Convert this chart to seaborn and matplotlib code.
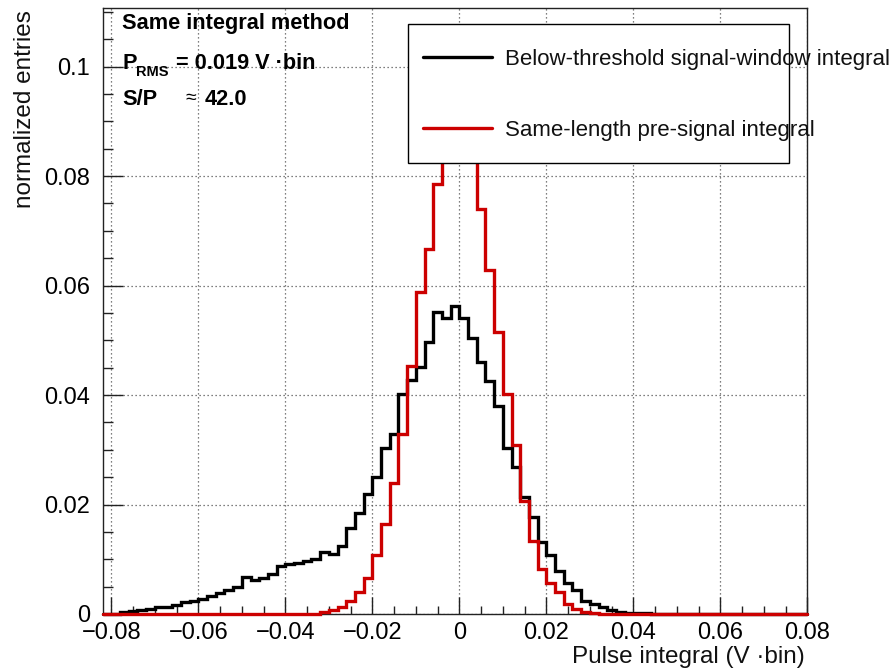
import matplotlib
matplotlib.use("Agg")
import matplotlib.pyplot as plt
import matplotlib.ticker as mticker
from matplotlib.patches import Rectangle
from matplotlib.lines import Line2D
import numpy as np
import pandas as pd
import seaborn as sns

# ---------------- data ----------------
x_min, x_max, bin_width = -0.082, 0.080, 0.002
bin_edges = [round(v, 4) for v in np.arange(x_min, x_max + bin_width / 2, bin_width)]
bin_centers = [round((a + b) / 2, 4) for a, b in zip(bin_edges[:-1], bin_edges[1:])]

below_threshold = [
    0.0, 0.0, 0.0003, 0.0005, 0.0008, 0.0009, 0.0012, 0.0013, 0.0016, 0.0022,
    0.0023, 0.0027, 0.0033, 0.0038, 0.0044, 0.0050, 0.0067, 0.0063, 0.0065, 0.0073,
    0.0087, 0.0091, 0.0093, 0.0096, 0.0101, 0.0114, 0.0110, 0.0125, 0.0157, 0.0184,
    0.0219, 0.0251, 0.0303, 0.0328, 0.0402, 0.0427, 0.0452, 0.0496, 0.0552, 0.0540,
    0.0563, 0.0540, 0.0504, 0.0461, 0.0426, 0.0380, 0.0303, 0.0269, 0.0213, 0.0178,
    0.0132, 0.0108, 0.0079, 0.0056, 0.0044, 0.0024, 0.0019, 0.0013, 0.0007, 0.0004,
    0.0002, 0.0001, 0.0001, 0.0, 0.0, 0.0, 0.0, 0.0, 0.0, 0.0,
    0.0, 0.0, 0.0, 0.0, 0.0, 0.0, 0.0, 0.0, 0.0, 0.0,
    0.0,
]
pre_signal = [
    0.0, 0.0, 0.0, 0.0, 0.0, 0.0, 0.0, 0.0, 0.0, 0.0,
    0.0, 0.0, 0.0, 0.0, 0.0, 0.0, 0.0, 0.0, 0.0, 0.0,
    0.0, 0.0, 0.0, 0.0, 0.0, 0.0004, 0.0007, 0.0012, 0.0023, 0.0040,
    0.0066, 0.0108, 0.0164, 0.0239, 0.0328, 0.0453, 0.0589, 0.0666, 0.0786, 0.0850,
    0.0880, 0.0870, 0.0835, 0.0739, 0.0628, 0.0515, 0.0402, 0.0309, 0.0206, 0.0134,
    0.0083, 0.0057, 0.0041, 0.0019, 0.0010, 0.0004, 0.0002, 0.0, 0.0, 0.0,
    0.0, 0.0, 0.0, 0.0, 0.0, 0.0, 0.0, 0.0, 0.0, 0.0,
    0.0, 0.0, 0.0, 0.0, 0.0, 0.0, 0.0, 0.0, 0.0, 0.0,
    0.0,
]
assert len(below_threshold) == len(bin_centers) == len(pre_signal)

series_names = ["Below-threshold signal-window integral", "Same-length pre-signal integral"]
series_colors = ["#000000", "#cc0000"]
x_ticks = [-0.08, -0.06, -0.04, -0.02, 0.0, 0.02, 0.04, 0.06, 0.08]
y_ticks = [0.0, 0.02, 0.04, 0.06, 0.08, 0.1]
x_label = "Pulse integral (V \u00b7bin)"
y_label = "normalized entries"
info_title = "Same integral method"
p_rms_text = "= 0.019 V \u00b7bin"
sp_value = "42.0"

# ---------------- style ----------------
sns.set_theme(style="white")
plt.rcParams["font.family"] = ["Liberation Sans", "DejaVu Sans"]
plt.rcParams["axes.unicode_minus"] = True

W, H = 894, 671
fig = plt.figure(figsize=(W / 100, H / 100), dpi=100)
L, R, T, B = 102.7, 807.3, 8.0, 614.0
ax = fig.add_axes([L / W, 1 - B / H, (R - L) / W, (B - T) / H])


def fpx(x, y):
    return (x / W, 1 - y / H)


df = pd.DataFrame({"x": bin_centers, "black": below_threshold, "red": pre_signal})
sns.histplot(data=df, x="x", weights="black", bins=bin_edges, element="step", fill=False,
             color=series_colors[0], linewidth=2.4, ax=ax, zorder=3,
             solid_joinstyle="miter", clip_on=False)
sns.histplot(data=df, x="x", weights="red", bins=bin_edges, element="step", fill=False,
             color=series_colors[1], linewidth=2.4, ax=ax, zorder=4,
             solid_joinstyle="miter", clip_on=False)

ax.set_xlim(x_min, x_max)
ax.set_ylim(0, 0.1107)

ax.set_xticks(x_ticks)
ax.set_yticks(y_ticks)
ax.xaxis.set_minor_locator(mticker.MultipleLocator(0.005))
ax.yaxis.set_minor_locator(mticker.MultipleLocator(0.005))


def fmt(v, pos=None):
    if abs(v) < 1e-12:
        return "0"
    return f"{v:g}".replace("-", "\u2212")


ax.xaxis.set_major_formatter(mticker.FuncFormatter(fmt))
ax.yaxis.set_major_formatter(mticker.FuncFormatter(fmt))

ax.tick_params(axis="both", which="both", direction="in", colors="#222222",
               labelcolor="black", width=1.0, labelsize=17, top=False, right=False,
               bottom=True, left=True)
ax.tick_params(axis="x", which="major", length=12.2, pad=6)
ax.tick_params(axis="x", which="minor", length=6.1)
ax.tick_params(axis="y", which="major", length=14.4, pad=9)
ax.tick_params(axis="y", which="minor", length=7.2)

ax.grid(True, which="major", color="#555555", linestyle=(0, (1, 2.2)), linewidth=0.9)
ax.set_axisbelow(True)
for s in ax.spines.values():
    s.set_color("#222222")
    s.set_linewidth(1.0)

ax.set_xlabel(x_label, fontsize=17.5, color="#111111")
ax.xaxis.label.set_ha("right")
ax.xaxis.label.set_va("baseline")
ax.xaxis.set_label_coords(*fpx(805, 663), transform=fig.transFigure)

ax.set_ylabel(y_label, fontsize=17.5, color="#111111")
ax.yaxis.label.set_ha("right")
ax.yaxis.label.set_va("baseline")
ax.yaxis.set_label_coords(*fpx(31.5, 10), transform=fig.transFigure)

# ---------------- info text ----------------
tkw = dict(transform=fig.transFigure, color="black", va="baseline", ha="left", zorder=20)
ax.text(*fpx(122, 29), info_title, fontsize=15.7, fontweight="bold", **tkw)
ax.text(*fpx(122, 69), "P", fontsize=15.7, fontweight="bold", **tkw)
ax.text(*fpx(136, 76), "RMS", fontsize=10.5, fontweight="bold", **tkw)
ax.text(*fpx(176, 69), p_rms_text, fontsize=15.7, fontweight="bold", **tkw)
ax.text(*fpx(122, 105), "S/P", fontsize=15.7, fontweight="bold", **tkw)
ax.text(*fpx(186, 103), "\u2248", fontsize=14, **tkw)
ax.text(*fpx(205, 105), sp_value, fontsize=15.7, fontweight="bold", **tkw)

# ---------------- legend ----------------
box = Rectangle(fpx(408, 163.3), (789.3 - 408) / W, (163.3 - 24) / H,
                transform=fig.transFigure, facecolor="white", edgecolor="black",
                linewidth=1.0, zorder=10, clip_on=False)
ax.add_patch(box)
for name, col, yy in zip(series_names, series_colors, [57.3, 127.7]):
    ln = Line2D([423 / W, 492 / W], [1 - yy / H, 1 - yy / H], transform=fig.transFigure,
                color=col, linewidth=2.4, zorder=11, clip_on=False)
    ax.add_line(ln)
    ax.text(505 / W, 1 - yy / H, name, transform=fig.transFigure, fontsize=16,
            color="#111111", va="center_baseline", ha="left", zorder=12, clip_on=False)

fig.savefig("out.png", dpi=100)
